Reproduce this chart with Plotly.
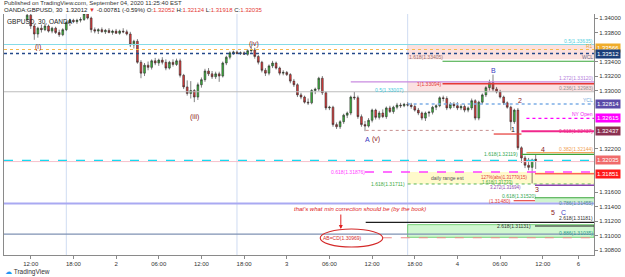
import plotly.graph_objects as go
import pandas as pd

# ---------------- data ----------------
# 30-minute GBPUSD candles (EST), first bar 2020-09-01 11:30
bar_start = "2020-09-01 11:30"
opens = [1.3398,1.3404,1.3389,1.3378,1.3386,1.3384,1.3389,1.3382,1.3386,1.3380,
         1.3377,1.3384,1.3394,1.3397,1.3395,1.3397,1.3398,1.3406,1.3400,1.3384,
         1.3382,1.3384,1.3381,1.3383,1.3380,1.3382,1.3379,1.3382,1.3381,1.3378,
         1.3363,1.3368,1.3339,1.3324,1.3335,1.3332,1.3341,1.3338,1.3342,1.3339,
         1.3331,1.3339,1.3336,1.3341,1.3321,1.3305,1.3296,1.3300,1.3291,1.3308,
         1.3315,1.3327,1.3323,1.3319,1.3323,1.3320,1.3338,1.3346,1.3352,1.3353,
         1.3351,1.3352,1.3350,1.3355,1.3356,1.3347,1.3339,1.3328,1.3324,1.3334,
         1.3338,1.3331,1.3324,1.3325,1.3322,1.3313,1.3308,1.3294,1.3291,1.3284,
         1.3283,1.3300,1.3302,1.3317,1.3297,1.3276,1.3277,1.3253,1.3250,1.3257,
         1.3266,1.3269,1.3291,1.3290,1.3264,1.3253,1.3251,1.3259,1.3273,1.3263,
         1.3269,1.3264,1.3276,1.3271,1.3277,1.3280,1.3279,1.3281,1.3280,1.3278,
         1.3273,1.3269,1.3262,1.3269,1.3270,1.3277,1.3279,1.3290,1.3289,1.3276,
         1.3281,1.3279,1.3276,1.3278,1.3273,1.3276,1.3286,1.3262,1.3284,1.3294,
         1.3304,1.3311,1.3302,1.3298,1.3291,1.3283,1.3277,1.3257,1.3273,1.3221,
         1.3207,1.3197,1.3194,1.32052]
highs = [1.3406,1.3408,1.3392,1.3388,1.3391,1.3392,1.3391,1.3388,1.3388,1.3384,
         1.3386,1.3396,1.3399,1.3399,1.3399,1.3401,1.3408,1.3409,1.3402,1.3387,
         1.3386,1.3387,1.3385,1.3386,1.3384,1.3385,1.3384,1.3386,1.3384,1.3381,
         1.3370,1.3371,1.3342,1.3338,1.3340,1.3343,1.3345,1.3344,1.3346,1.3343,
         1.3341,1.3343,1.3344,1.3344,1.3323,1.3314,1.3313,1.3302,1.3311,1.3318,
         1.3330,1.3331,1.3327,1.3326,1.3326,1.3340,1.3348,1.3354,1.3355,1.3355,
         1.3354,1.3354,1.3357,1.3362,1.3359,1.3349,1.3341,1.3331,1.3336,1.3341,
         1.3340,1.3333,1.3328,1.3327,1.3324,1.3316,1.3310,1.3297,1.3293,1.3289,
         1.3302,1.3304,1.3319,1.3320,1.3299,1.3279,1.3279,1.3256,1.3259,1.3268,
         1.3271,1.3293,1.3298,1.3293,1.3267,1.3258,1.3262,1.3275,1.3275,1.3272,
         1.3274,1.3278,1.3279,1.3279,1.3283,1.3283,1.3283,1.3284,1.3283,1.3281,
         1.3276,1.3271,1.3271,1.3272,1.3279,1.3281,1.3292,1.3293,1.3292,1.3284,
         1.3284,1.3284,1.3281,1.3281,1.3278,1.3289,1.3288,1.3286,1.3296,1.3306,
         1.3315,1.3322,1.3305,1.3301,1.3293,1.3285,1.3279,1.3275,1.3276,1.3223,
         1.3210,1.3207,1.3206,1.32124]
lows = [1.3396,1.3385,1.3370,1.3373,1.3380,1.3382,1.3380,1.3379,1.3378,1.3374,
        1.3375,1.3382,1.3389,1.3393,1.3392,1.3394,1.3396,1.3398,1.3380,1.3379,
        1.3378,1.3380,1.3378,1.3379,1.3377,1.3378,1.3377,1.3379,1.3376,1.3360,
        1.3358,1.3337,1.3317,1.3320,1.3328,1.3329,1.3335,1.3334,1.3336,1.3328,
        1.3329,1.3333,1.3334,1.3318,1.3302,1.3293,1.3289,1.3284,1.3287,1.3304,
        1.3312,1.3320,1.3316,1.3316,1.3312,1.3318,1.3335,1.3343,1.3349,1.3350,
        1.3349,1.3349,1.3348,1.3352,1.3344,1.3336,1.3325,1.3320,1.3321,1.3331,
        1.3329,1.3321,1.3321,1.3320,1.3310,1.3305,1.3291,1.3288,1.3282,1.3280,
        1.3281,1.3295,1.3299,1.3294,1.3273,1.3273,1.3250,1.3247,1.3247,1.3254,
        1.3262,1.3266,1.3287,1.3261,1.3250,1.3244,1.3249,1.3256,1.3260,1.3260,
        1.3262,1.3261,1.3269,1.3268,1.3274,1.3276,1.3277,1.3278,1.3275,1.3271,
        1.3266,1.3259,1.3258,1.3264,1.3267,1.3273,1.3277,1.3285,1.3273,1.3274,
        1.3276,1.3273,1.3273,1.3270,1.3270,1.3273,1.3259,1.3259,1.3281,1.3291,
        1.3300,1.3299,1.3296,1.3289,1.3280,1.3275,1.3245,1.3254,1.3218,1.3200,
        1.3193,1.3190,1.3172,1.31918]
closes = [1.3404,1.3389,1.3378,1.3386,1.3384,1.3389,1.3382,1.3386,1.3380,1.3377,
          1.3384,1.3394,1.3397,1.3395,1.3397,1.3398,1.3406,1.3400,1.3384,1.3382,
          1.3384,1.3381,1.3383,1.3380,1.3382,1.3379,1.3382,1.3381,1.3378,1.3363,
          1.3368,1.3339,1.3324,1.3335,1.3332,1.3341,1.3338,1.3342,1.3339,1.3331,
          1.3339,1.3336,1.3341,1.3321,1.3305,1.3296,1.3300,1.3291,1.3308,1.3315,
          1.3327,1.3323,1.3319,1.3323,1.3320,1.3338,1.3346,1.3352,1.3353,1.3351,
          1.3352,1.3350,1.3355,1.3356,1.3347,1.3339,1.3328,1.3324,1.3334,1.3338,
          1.3331,1.3324,1.3325,1.3322,1.3313,1.3308,1.3294,1.3291,1.3284,1.3283,
          1.3300,1.3302,1.3317,1.3297,1.3276,1.3277,1.3253,1.3250,1.3257,1.3266,
          1.3269,1.3291,1.3290,1.3264,1.3253,1.3251,1.3259,1.3273,1.3263,1.3269,
          1.3264,1.3276,1.3271,1.3277,1.3280,1.3279,1.3281,1.3280,1.3278,1.3273,
          1.3269,1.3262,1.3269,1.3270,1.3277,1.3279,1.3290,1.3289,1.3276,1.3281,
          1.3279,1.3276,1.3278,1.3273,1.3276,1.3286,1.3262,1.3284,1.3294,1.3304,
          1.3311,1.3302,1.3298,1.3291,1.3283,1.3277,1.3257,1.3273,1.3221,1.3207,
          1.3197,1.3194,1.3204,1.32035]

# axis ticks (labels that are not hidden behind the price markers)
y_ticks = [1.308, 1.310, 1.312, 1.314, 1.316, 1.322, 1.330, 1.332, 1.334, 1.338, 1.340]
x_tick_times = ["2020-09-01 12:00", "2020-09-01 18:00", "2020-09-02 00:00", "2020-09-02 06:00",
                "2020-09-02 12:00", "2020-09-02 18:00", "2020-09-03 00:00", "2020-09-03 06:00",
                "2020-09-03 12:00", "2020-09-03 18:00", "2020-09-04 00:00", "2020-09-04 06:00",
                "2020-09-04 12:00", "2020-09-04 17:00"]
x_tick_text = ["12:00", "18:00", "2", "06:00", "12:00", "18:00", "3", "06:00",
               "12:00", "18:00", "4", "06:00", "12:00", "6"]
session_breaks = ["2020-09-01 17:00", "2020-09-02 17:00", "2020-09-03 17:00"]

# horizontal levels (prices)
level_prices = [1.33635, 1.33566, 1.33512, 1.33405, 1.33120, 1.33094, 1.32983,
                1.32814, 1.32615, 1.32450, 1.32437, 1.32400, 1.32144, 1.32119,
                1.32035, 1.32020, 1.31876, 1.31851, 1.31711, 1.31694, 1.31520,
                1.31480, 1.31440, 1.31181, 1.31131, 1.31020, 1.30969]

# zone rectangles (price bottom/top)
zone_lows = [1.33430, 1.32983, 1.31711, 1.31455, 1.30975]
zone_highs = [1.33635, 1.33120, 1.31876, 1.31520, 1.31150]

# level labels
label_texts = ["0.5(1.33635)", "R1", "WCL", "1.618(1.33405)", "1.272(1.33120)", "1(1.33094)",
               "0.236(1.32983)", "0.5(1.33007)", "YCL", "NY Open", "0.618(1.32437)",
               "0.382(1.32144)", "1.618(1.32119)", "0.618(1.31876)", "daily range est",
               "1.618(1.31711)", "127%(abs)1.31770(15)", "1.618(1.31733)", "3.272(1.31694)",
               "0.618(1.31520)", "(1.31480)", "0.786(1.31455)", "2.618(1.31181)",
               "2.618(1.31131)", "0.886(1.31035)", "AB=CD(1.30969)"]
label_prices = [1.33635, 1.33566, 1.33512, 1.33405, 1.33120, 1.33094, 1.32983, 1.33007,
                1.32814, 1.32615, 1.32437, 1.32144, 1.32119, 1.31876, 1.31790,
                1.31711, 1.31805, 1.31735, 1.31660, 1.31548, 1.31480, 1.31455,
                1.31181, 1.31131, 1.31035, 1.30969]

# price-scale markers
marker_prices = [1.33566, 1.33512, 1.32814, 1.32615, 1.32437, 1.32035, 1.31851]

# wave labels
wave_texts = ["(i)", "(iii)", "(iv)", "A", "(v)", "B", "1", "2", "3", "4", "5", "C"]
wave_times = ["2020-09-01 13:00", "2020-09-02 11:00", "2020-09-02 19:25", "2020-09-03 11:25",
              "2020-09-03 12:30", "2020-09-04 05:05", "2020-09-04 07:50", "2020-09-04 08:50",
              "2020-09-04 11:15", "2020-09-04 12:05", "2020-09-04 13:30", "2020-09-04 14:55"]
wave_prices = [1.33600, 1.32635, 1.33642, 1.32331, 1.32331, 1.33270, 1.32469, 1.32856,
               1.31640, 1.32193, 1.31324, 1.31324]

note_text = "that's what min correction should be (by the book)"

# ---------------- helpers ----------------
t0 = pd.Timestamp("2020-09-01 00:00")


def hrs(t):
    return (pd.Timestamp(t) - t0) / pd.Timedelta(hours=1)


times = pd.date_range(bar_start, periods=len(closes), freq="30min")
xh = [(t - t0) / pd.Timedelta(hours=1) for t in times]

X_LEFT, X_RIGHT = 8.24, 91.2
Y_LOW, Y_HIGH = 1.30731, 1.34056

fig = go.Figure()
fig.add_trace(go.Candlestick(
    x=xh, open=opens, high=highs, low=lows, close=closes,
    increasing=dict(fillcolor="#3cbc3c", line=dict(color="#2b2b2b", width=0.6)),
    decreasing=dict(fillcolor="#e63a3a", line=dict(color="#2b2b2b", width=0.6)),
    whiskerwidth=0, showlegend=False, hoverinfo="skip"))

shapes = []

# session separators
for s in session_breaks:
    shapes.append(dict(type="line", x0=hrs(s), x1=hrs(s), y0=0, y1=1, yref="paper",
                       line=dict(color="#cfdcf2", width=1), layer="below"))

# zones (style: x0, fill, border)
zone_styles = [
    (65.0, "rgba(245,170,160,0.35)", "rgba(0,0,0,0)"),
    (65.0, "rgba(245,170,170,0.35)", "rgba(0,0,0,0)"),
    (65.0, "rgba(255,246,160,0.55)", "rgba(0,0,0,0)"),
    (82.9, "rgba(170,235,170,0.55)", "rgba(0,0,0,0)"),
    (65.0, "rgba(170,240,170,0.55)", "#5cc85c"),
]
for lo, hi, (zx0, fill, border) in zip(zone_lows, zone_highs, zone_styles):
    shapes.append(dict(type="rect", x0=zx0, x1=X_RIGHT, y0=lo, y1=hi, fillcolor=fill,
                       line=dict(color=border, width=0.8), layer="below"))

# level line styles: x0, x1, color, width, dash
level_styles = [
    (X_LEFT, X_RIGHT, "#86dbe8", 1.2, "solid"),      # 0.5 cyan
    (X_LEFT, X_RIGHT, "#f5b94a", 1.2, "dot"),        # R1
    (X_LEFT, X_RIGHT, "#23488a", 1.4, "dot"),        # WCL
    (69.9, X_RIGHT, "#3aa63a", 1.1, "solid"),        # 1.618
    (57.0, X_RIGHT, "#c98be0", 1.1, "solid"),        # 1.272
    (69.9, X_RIGHT, "#e53935", 1.3, "solid"),        # 1
    (X_LEFT, X_RIGHT, "#bdbdbd", 1.2, "solid"),      # 0.236
    (65.0, X_RIGHT, "#7eaee6", 1.6, "dot"),          # YCL
    (81.7, X_RIGHT, "#ff00ff", 1.2, "dot"),          # NY open
    (59.1, 77.1, "#c89090", 1.0, "dot"),             # A level dotted
    (81.0, X_RIGHT, "#f0288c", 2.0, "solid"),        # 0.618
    (77.1, 81.0, "#e53935", 1.2, "solid"),           # red short
    (81.7, X_RIGHT, "#f3a45c", 1.1, "solid"),        # 0.382
    (81.0, X_RIGHT, "#3aa63a", 1.1, "solid"),        # 1.618 green
    (X_LEFT, X_RIGHT, "#16d9f0", 1.5, "dash"),       # current price
    (X_LEFT, X_RIGHT, "#f6c2cc", 1.0, "solid"),      # pink
    (59.0, X_RIGHT, "#ff40ff", 1.3, "dash"),         # 0.618 magenta
    (82.9, X_RIGHT, "#ff2020", 1.0, "solid"),        # red marker line
    (65.0, X_RIGHT, "#5ab55a", 1.0, "dot"),          # 1.618 green dotted
    (82.9, X_RIGHT, "#8e44ad", 1.4, "solid"),        # 3.272
    (82.9, X_RIGHT, "#3aa63a", 1.1, "solid"),        # 0.618 green
    (79.9, 82.9, "#e53935", 1.1, "solid"),           # red short
    (X_LEFT, X_RIGHT, "#a9a9f2", 2.0, "solid"),      # lavender
    (59.1, X_RIGHT, "#1e1e1e", 1.2, "solid"),        # 2.618 black
    (82.9, X_RIGHT, "#1e1e1e", 1.1, "solid"),        # 2.618 black short
    (X_LEFT, X_RIGHT, "#7f92b3", 1.3, "solid"),      # slate
    (61.5, X_RIGHT, "#f08a8a", 1.1, "dash"),         # AB=CD
]
for p, (lx0, lx1, col, w, dash) in zip(level_prices, level_styles):
    shapes.append(dict(type="line", x0=lx0, x1=lx1, y0=p, y1=p,
                       line=dict(color=col, width=w, dash=dash)))

# ellipse around AB=CD
shapes.append(dict(type="circle", x0=52.7, x1=61.5, y0=1.30841, y1=1.31089,
                   line=dict(color="#d42a2a", width=1.1)))

annotations = []

# label styles: x, xanchor, yanchor, color, size
label_styles = [
    (X_RIGHT, "right", "bottom", "#4fcfe0", 5),
    (X_RIGHT, "right", "bottom", "#e8a840", 5),
    (X_RIGHT, "right", "top", "#6d6d8a", 5),
    (67.6, "center", "bottom", "#a07070", 5),
    (X_RIGHT, "right", "bottom", "#b57edc", 5),
    (68.1, "center", "middle", "#e53935", 5),
    (X_RIGHT, "right", "bottom", "#909090", 5),
    (62.4, "center", "middle", "#40c8dc", 5),
    (X_RIGHT, "right", "bottom", "#6f9fd8", 5),
    (X_RIGHT, "right", "bottom", "#f020f0", 5),
    (X_RIGHT, "right", "middle", "#f0288c", 5),
    (X_RIGHT, "right", "bottom", "#f0a050", 5),
    (78.1, "center", "middle", "#34a853", 5),
    (56.6, "center", "middle", "#ff40ff", 5),
    (70.6, "center", "middle", "#555555", 5),
    (62.2, "center", "middle", "#44aa44", 5),
    (78.6, "center", "middle", "#e53935", 4.5),
    (77.6, "center", "middle", "#44aa44", 4.5),
    (78.8, "center", "middle", "#8e44ad", 4.5),
    (80.6, "center", "middle", "#34a853", 5),
    (78.0, "center", "middle", "#e53935", 5),
    (X_RIGHT, "right", "middle", "#4f8f8f", 5),
    (X_RIGHT, "right", "bottom", "#333333", 5),
    (79.9, "center", "middle", "#333333", 5),
    (X_RIGHT, "right", "middle", "#2a9d8f", 5),
    (55.9, "center", "middle", "#d42a2a", 5),
]
for txt, p, (lx, xa, ya, col, sz) in zip(label_texts, label_prices, label_styles):
    annotations.append(dict(x=lx, y=p, text=txt, showarrow=False, xanchor=xa, yanchor=ya,
                            font=dict(size=sz, color=col, family="Arial"),
                            bgcolor="rgba(255,255,255,0)", borderpad=0))

# wave labels
wave_colors = ["#8b1a1a", "#8b1a1a", "#8b1a1a", "#3b3bbf", "#8b1a1a", "#3b3bbf",
               "#111111", "#8b1a1a", "#8b1a1a", "#8b1a1a", "#8b1a1a", "#3b3bbf"]
for txt, t, p, col in zip(wave_texts, wave_times, wave_prices, wave_colors):
    annotations.append(dict(x=hrs(t), y=p, text=txt, showarrow=False,
                            font=dict(size=7, color=col, family="Arial")))

# note + arrow
annotations.append(dict(x=58.3, y=1.31365, text="<i>" + note_text + "</i>", showarrow=False,
                        font=dict(size=6, color="#e02020", family="Arial")))
annotations.append(dict(x=55.6, y=1.31089, ax=55.6, ay=1.31310, axref="x", ayref="y",
                        text="", showarrow=True, arrowhead=2, arrowsize=0.8,
                        arrowwidth=1, arrowcolor="#e02020"))

# price markers on scale (style: colour, vertical nudge in px)
marker_styles = [("#f0ad2b", 2), ("#1b3f7a", -1), ("#5a4aa8", 0), ("#ff00ff", 0),
                 ("#8b3050", 0), ("#f06a6a", 0), ("#ff1a1a", 0)]
for p, (col, ys) in zip(marker_prices, marker_styles):
    annotations.append(dict(xref="paper", x=1, xanchor="left", xshift=1, y=p, yref="y",
                            yshift=ys, text=f"{p:.5f}", showarrow=False, bgcolor=col,
                            font=dict(size=6, color="white", family="Arial"),
                            borderpad=1))

# header texts
annotations.append(dict(xref="paper", yref="paper", x=0, y=1, xanchor="left", yanchor="bottom",
                        xshift=-2, yshift=6,
                        text="Published on TradingView.com, September 04, 2020 11:25:40 EST",
                        showarrow=False, font=dict(size=6, color="#333", family="Arial")))
red = "#e53935"
hdr2 = ("OANDA:GBPUSD, 30  1.32012 <span style='color:%s'>▼</span> -0.00781 (-0.59%%) "
        "O:<span style='color:%s'>1.32052</span> H:<span style='color:%s'>1.32124</span> "
        "L:<span style='color:%s'>1.31918</span> C:<span style='color:%s'>1.32035</span>"
        % (red, red, red, red, red))
annotations.append(dict(xref="paper", yref="paper", x=0, y=1, xanchor="left", yanchor="bottom",
                        xshift=-2, yshift=-1, text=hdr2, showarrow=False,
                        font=dict(size=6, color="#222", family="Arial")))
annotations.append(dict(xref="paper", yref="paper", x=0, y=1, xanchor="left", yanchor="top",
                        xshift=1, yshift=-2, text="GBPUSD, 30, OANDA", showarrow=False,
                        font=dict(size=6.5, color="#222", family="Arial")))
annotations.append(dict(xref="paper", yref="paper", x=0, y=0, xanchor="left", yanchor="top",
                        xshift=-1, yshift=-11,
                        text="<span style='color:#2196f3'>☁</span> TradingView",
                        showarrow=False, font=dict(size=6.5, color="#333", family="Arial")))

fig.update_layout(
    width=625, height=277,
    margin=dict(l=3, r=26, t=14, b=22),
    paper_bgcolor="white", plot_bgcolor="white",
    shapes=shapes, annotations=annotations,
    xaxis=dict(range=[X_LEFT, X_RIGHT], rangeslider=dict(visible=False),
               tickvals=[hrs(t) for t in x_tick_times], ticktext=x_tick_text,
               showgrid=False, zeroline=False, showline=True, linecolor="#8a8a8a",
               ticks="outside", ticklen=3, tickcolor="#8a8a8a",
               tickfont=dict(size=6, color="#333", family="Arial")),
    yaxis=dict(range=[Y_LOW, Y_HIGH], side="right", tickvals=y_ticks,
               ticktext=[f"{v:.5f}" for v in y_ticks],
               showgrid=False, zeroline=False, showline=True, mirror=True,
               linecolor="#8a8a8a", ticks="outside", ticklen=3, tickcolor="#8a8a8a",
               tickfont=dict(size=6, color="#333", family="Arial")),
    font=dict(family="Arial"),
)

fig.write_html("out.html")
